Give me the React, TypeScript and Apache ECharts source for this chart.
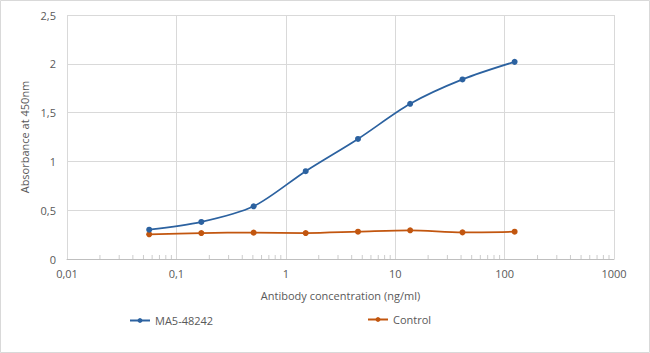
import React, { useEffect, useRef } from "react";
import * as echarts from "echarts";

const concentrations = [0.0564, 0.169, 0.508, 1.52, 4.57, 13.7, 41.2, 123.5];
const ma5Values = [0.3, 0.38, 0.54, 0.9, 1.23, 1.59, 1.84, 2.02];
const controlValues = [0.253, 0.266, 0.27, 0.266, 0.28, 0.294, 0.273, 0.28];
const xTickLabels: Record<string, string> = {
  "0.01": "0,01",
  "0.1": "0,1",
  "1": "1",
  "10": "10",
  "100": "100",
  "1000": "1000",
};
const minorTickValues: number[] = [];
[0.01, 0.1, 1, 10, 100].forEach((d) => {
  for (let k = 2; k <= 9; k++) minorTickValues.push(+(d * k).toPrecision(3));
});

const BLUE = "#2C62A0";
const ORANGE = "#C2560F";
const TEXT = "#595959";
const FONT = "'Open Sans', 'Noto Sans', sans-serif";

export default function App() {
  const ref = useRef<HTMLDivElement>(null);
  useEffect(() => {
    document.body.style.margin = "0";
    const chart = echarts.init(ref.current!, undefined, { renderer: "svg" });
    chart.setOption({
      animation: false,
      backgroundColor: "#ffffff",
      textStyle: { fontFamily: FONT, color: TEXT },
      grid: { left: 67, right: 36, top: 15, bottom: 94, containLabel: false },
      xAxis: {
        type: "log",
        logBase: 10,
        min: 0.01,
        max: 1000,
        name: "Antibody concentration (ng/ml)",
        nameLocation: "middle",
        nameGap: 31,
        nameTextStyle: { fontSize: 11, color: TEXT, fontFamily: FONT },
        axisLine: { show: true, lineStyle: { color: "#bfbfbf", width: 1 } },
        axisTick: { show: false },
        axisLabel: {
          fontSize: 11,
          color: TEXT,
          margin: 9,
          fontFamily: FONT,
          formatter: (v: number) => {
            const key = String(+v.toPrecision(3));
            return xTickLabels[key] ?? key;
          },
        },
        splitLine: { show: true, lineStyle: { color: "#d9d9d9", width: 1 } },
      },
      yAxis: {
        type: "value",
        min: 0,
        max: 2.5,
        interval: 0.5,
        name: "Absorbance at 450nm",
        nameLocation: "middle",
        nameGap: 29,
        nameTextStyle: { fontSize: 11, color: TEXT, fontFamily: FONT },
        axisLine: { show: false },
        axisTick: { show: false },
        axisLabel: {
          fontSize: 11,
          color: TEXT,
          margin: 11,
          fontFamily: FONT,
          formatter: (v: number) => String(v).replace(".", ","),
        },
        splitLine: { show: true, lineStyle: { color: "#d9d9d9", width: 1 } },
      },
      legend: [
        {
          data: ["MA5-48242"],
          left: 124,
          top: 310,
          itemWidth: 20,
          itemHeight: 6,
          itemGap: 4,
          textStyle: { fontSize: 11, color: TEXT, fontFamily: FONT },
        },
        {
          data: ["Control"],
          left: 362,
          top: 309,
          itemWidth: 20,
          itemHeight: 6,
          itemGap: 4,
          textStyle: { fontSize: 11, color: TEXT, fontFamily: FONT },
        },
      ],
      graphic: [
        {
          type: "rect",
          shape: { x: 0.5, y: 0.5, width: 649, height: 352 },
          style: { fill: "none", stroke: "#d9d9d9", lineWidth: 1 },
          silent: true,
        },
      ],
      series: [
        {
          name: "MA5-48242",
          type: "line",
          smooth: 0.3,
          data: concentrations.map((c, i) => [c, ma5Values[i]]),
          symbol: "circle",
          symbolSize: 6,
          lineStyle: { color: BLUE, width: 1.75 },
          itemStyle: { color: BLUE },
          z: 3,
        },
        {
          name: "Control",
          type: "line",
          smooth: 0.3,
          data: concentrations.map((c, i) => [c, controlValues[i]]),
          symbol: "circle",
          symbolSize: 6,
          lineStyle: { color: ORANGE, width: 1.75 },
          itemStyle: { color: ORANGE },
          z: 2,
        },
        {
          name: "minorTicks",
          type: "scatter",
          silent: true,
          data: minorTickValues.map((v) => [v, 0]),
          symbol: "rect",
          symbolSize: [1, 4],
          symbolOffset: [0, -2],
          itemStyle: { color: "#bfbfbf" },
          z: 1,
        },
      ],
    });
    return () => chart.dispose();
  }, []);
  return <div ref={ref} style={{ width: 650, height: 353 }} />;
}
